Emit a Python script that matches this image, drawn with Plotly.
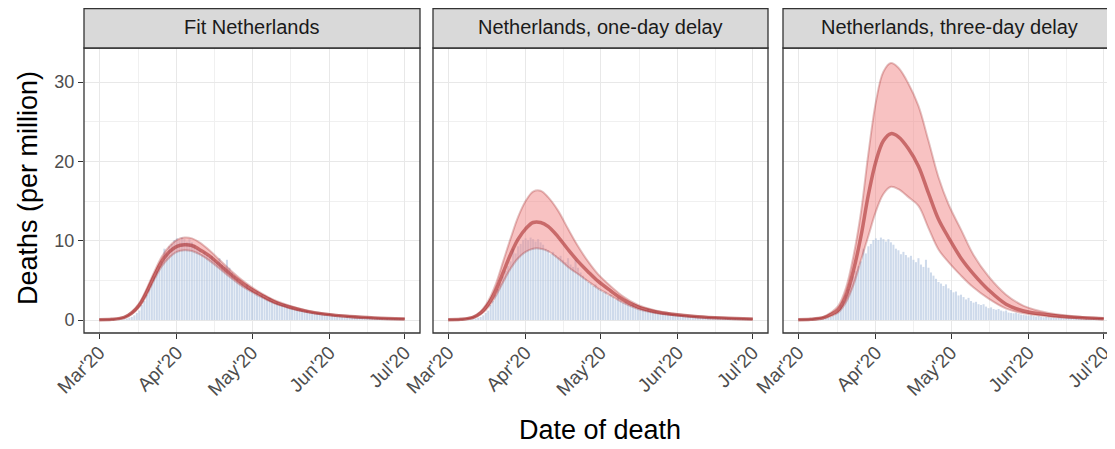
import pandas as pd
import plotly.graph_objects as go
from plotly.subplots import make_subplots

# observed deaths per million by date of death, 1 Mar - 30 Jun 2020
obs_dates = pd.date_range("2020-03-01", "2020-06-30", freq="D")
obs_deaths = [
    0, 0, 0, 0, 0, 0, 0.06, 0, 0.06, 0.06,
    0.1, 0.2, 0.3, 0.4, 0.6, 0.9, 1.2, 1.9, 2.4, 3.2,
    3.9, 4.6, 5.5, 6.2, 6.8, 7.4, 9.0, 8.4, 9.3, 9.6, 10.1,
    10.3, 10.1, 10.4, 10.2, 9.9, 10.2, 9.8, 9.5, 9.0, 8.8,
    8.3, 8.6, 8.2, 7.9, 8.1, 7.6, 7.3, 7.8, 7.0, 6.7,
    7.6, 6.6, 6.0, 5.6, 5.2, 4.8, 4.6, 4.3, 4.5, 4.0,
    3.8, 3.5, 3.6, 3.1, 3.2, 2.9, 2.6, 2.8, 2.4, 2.2,
    2.3, 2.0, 1.9, 2.0, 1.7, 1.5, 1.6, 1.4, 1.3, 1.4,
    1.2, 1.1, 1.2, 0.95, 0.9, 0.85, 0.9, 0.8, 0.7, 0.65, 0.6,
    0.55, 0.6, 0.5, 0.45, 0.5, 0.4, 0.35, 0.4, 0.35, 0.3,
    0.3, 0.25, 0.3, 0.25, 0.2, 0.2, 0.25, 0.2, 0.15, 0.2,
    0.15, 0.15, 0.1, 0.15, 0.1, 0.1, 0.12, 0.08, 0.1, 0.06,
]

# model curves (median and 95% band)
fit_dates = [
    "2020-03-01", "2020-03-06", "2020-03-11", "2020-03-14", "2020-03-17",
    "2020-03-20", "2020-03-23", "2020-03-26", "2020-03-29", "2020-04-01",
    "2020-04-04", "2020-04-07", "2020-04-10", "2020-04-14", "2020-04-18",
    "2020-04-22", "2020-04-26", "2020-04-30", "2020-05-05", "2020-05-10",
    "2020-05-16", "2020-05-23", "2020-05-30", "2020-06-09", "2020-06-19",
    "2020-07-01",
]
fit_mid = [0.05, 0.1, 0.35, 0.9, 1.9, 3.6, 5.6, 7.4, 8.6, 9.3, 9.5, 9.4, 8.9,
           8.1, 7.0, 5.9, 4.9, 4.0, 3.1, 2.3, 1.65, 1.1, 0.75, 0.45, 0.27, 0.15]
fit_hi = [0.07, 0.13, 0.42, 1.05, 2.15, 4.0, 6.1, 8.0, 9.3, 10.1, 10.4, 10.3, 9.8,
          8.8, 7.6, 6.4, 5.3, 4.35, 3.35, 2.5, 1.8, 1.2, 0.82, 0.5, 0.3, 0.17]
fit_lo = [0.03, 0.07, 0.28, 0.75, 1.65, 3.2, 5.1, 6.8, 7.9, 8.6, 8.8, 8.7, 8.3,
          7.5, 6.5, 5.45, 4.5, 3.7, 2.85, 2.1, 1.5, 1.0, 0.68, 0.4, 0.24, 0.13]

d1_mid = [0.05, 0.1, 0.35, 0.9, 2.0, 3.7, 6.0, 8.3, 10.2, 11.5, 12.3, 12.3, 11.8,
          10.5, 8.9, 7.4, 6.1, 4.9, 3.7, 2.6, 1.65, 1.05, 0.72, 0.42, 0.25, 0.12]
d1_hi = [0.07, 0.13, 0.45, 1.1, 2.4, 4.5, 7.4, 10.3, 13.0, 15.0, 16.2, 16.3, 15.5,
         13.8, 11.5, 9.3, 7.4, 5.8, 4.3, 3.0, 1.9, 1.2, 0.8, 0.47, 0.28, 0.14]
d1_lo = [0.03, 0.07, 0.27, 0.7, 1.6, 3.0, 4.8, 6.5, 7.8, 8.6, 9.0, 9.0, 8.7,
         7.8, 6.7, 5.8, 4.9, 4.0, 3.1, 2.2, 1.4, 0.9, 0.62, 0.37, 0.22, 0.1]

d3_mid = [0.05, 0.1, 0.3, 0.7, 1.3, 3.0, 6.2, 10.5, 15.8, 20.0, 22.6, 23.5, 23.1,
          21.6, 19.4, 16.0, 12.7, 10.4, 7.8, 5.8, 3.8, 2.0, 1.15, 0.65, 0.35, 0.18]
d3_hi = [0.07, 0.13, 0.4, 0.95, 1.8, 4.0, 8.0, 13.5, 21.0, 27.5, 31.3, 32.4, 31.8,
         29.8, 27.0, 22.6, 18.0, 14.6, 11.4, 8.2, 5.5, 3.2, 1.8, 0.9, 0.48, 0.22]
d3_lo = [0.03, 0.07, 0.22, 0.5, 0.95, 2.2, 4.4, 7.5, 10.6, 13.7, 15.9, 16.8, 16.5,
         15.5, 14.4, 11.6, 8.9, 7.3, 5.6, 4.1, 2.7, 1.45, 0.85, 0.45, 0.25, 0.13]

panels = [
    ("Fit Netherlands", fit_mid, fit_lo, fit_hi),
    ("Netherlands, one-day delay", d1_mid, d1_lo, d1_hi),
    ("Netherlands, three-day delay", d3_mid, d3_lo, d3_hi),
]

FONT = "Liberation Sans, Arial, sans-serif"
# page body has an 8px margin, so the figure is 8px smaller than the window
W, H = 1107, 441
L, R, T, B = 76, 0, 40, 116
pw = W - L - R
ph = H - T - B
px_dom = [(76, 412), (425, 760), (775, 1107)]
strip = 39.5

fig = make_subplots(rows=1, cols=3, shared_yaxes=True)

for i, (title, mid, lo, hi) in enumerate(panels, start=1):
    fig.add_trace(go.Bar(x=obs_dates, y=obs_deaths,
                         marker=dict(color="rgba(176,196,222,0.62)", line_width=0),
                         hoverinfo="x+y"), row=1, col=i)
    fig.add_trace(go.Scatter(x=fit_dates, y=lo, mode="lines", line_shape="spline",
                             line=dict(color="rgba(139,0,0,0.24)", width=2),
                             hoverinfo="skip"), row=1, col=i)
    fig.add_trace(go.Scatter(x=fit_dates, y=hi, mode="lines", line_shape="spline",
                             line=dict(color="rgba(139,0,0,0.24)", width=2),
                             fill="tonexty", fillcolor="rgba(240,128,128,0.48)",
                             hoverinfo="skip"), row=1, col=i)
    fig.add_trace(go.Scatter(x=fit_dates, y=mid, mode="lines", line_shape="spline",
                             line=dict(color="rgba(150,10,10,0.48)", width=3.5)),
                  row=1, col=i)

    x0, x1 = px_dom[i - 1]
    xa = "xaxis" if i == 1 else f"xaxis{i}"
    ref = "x" if i == 1 else f"x{i}"
    yref = "y" if i == 1 else f"y{i}"
    end = "2020-07-07 02:24" if i < 3 else "2020-07-05 12:00"
    fig.layout[xa].update(
        domain=[(x0 - L) / pw, min(1, (x1 - L) / pw)],
        range=["2020-02-23 21:36", end],
        type="date", tickformat="%b'%y", dtick="M1", tick0="2020-03-01",
        tickangle=-45, ticks="outside", ticklen=5, tickwidth=1.2, tickcolor="#333333",
        tickfont=dict(family=FONT, size=19, color="#4d4d4d"),
        ticklabelstandoff=-5,
        showgrid=True, gridcolor="#e8e8e8", gridwidth=1.3, zeroline=False,
        minor=dict(showgrid=True, gridcolor="#f0f0f0", gridwidth=0.8,
                   tickvals=["2020-03-16 12:00", "2020-04-16", "2020-05-16 12:00",
                             "2020-06-16"]),
    )

    right = 1 if i < 3 else 1.05
    fig.add_shape(type="rect", xref=f"{ref} domain", yref=f"{yref} domain",
                  x0=0, x1=right, y0=0, y1=1, line=dict(color="#333333", width=1.3),
                  layer="above")
    fig.add_shape(type="rect", xref=f"{ref} domain", yref=f"{yref} domain",
                  x0=0, x1=right, y0=1, y1=1 + strip / ph, fillcolor="#d9d9d9",
                  line=dict(color="#333333", width=1.3), layer="above")
    fig.add_annotation(text=title, xref=f"{ref} domain", yref=f"{yref} domain",
                       x=0.5, y=1 + 21 / ph, xanchor="center", yanchor="middle",
                       showarrow=False,
                       font=dict(family=FONT, size=20, color="#1a1a1a"))

for i in range(1, 4):
    ya = "yaxis" if i == 1 else f"yaxis{i}"
    fig.layout[ya].update(
        range=[-1.63, 34.3], tickvals=[0, 10, 20, 30],
        ticks="outside" if i == 1 else "", ticklen=5, tickwidth=1.2, tickcolor="#333333",
        tickfont=dict(family=FONT, size=18, color="#4d4d4d"),
        showgrid=True, gridcolor="#e8e8e8", gridwidth=1.3, zeroline=False,
        minor=dict(showgrid=True, gridcolor="#f0f0f0", gridwidth=0.8,
                   tickvals=[5, 15, 25]),
    )

fig.add_annotation(text="Deaths (per million)", xref="paper", yref="paper",
                   x=(20 - L) / pw, y=(H - B - 180) / ph, textangle=-90,
                   xanchor="center", yanchor="middle", showarrow=False,
                   font=dict(family=FONT, size=27, color="#000000"))
fig.add_annotation(text="Date of death", xref="paper", yref="paper",
                   x=(592 - L) / pw, y=-(422 - (H - B)) / ph,
                   xanchor="center", yanchor="middle", showarrow=False,
                   font=dict(family=FONT, size=27, color="#000000"))

fig.update_layout(
    width=W, height=H, margin=dict(l=L, r=R, t=T, b=B),
    showlegend=False, bargap=0.2,
    paper_bgcolor="white", plot_bgcolor="white",
    font=dict(family=FONT),
)

fig.write_html("out.html")
